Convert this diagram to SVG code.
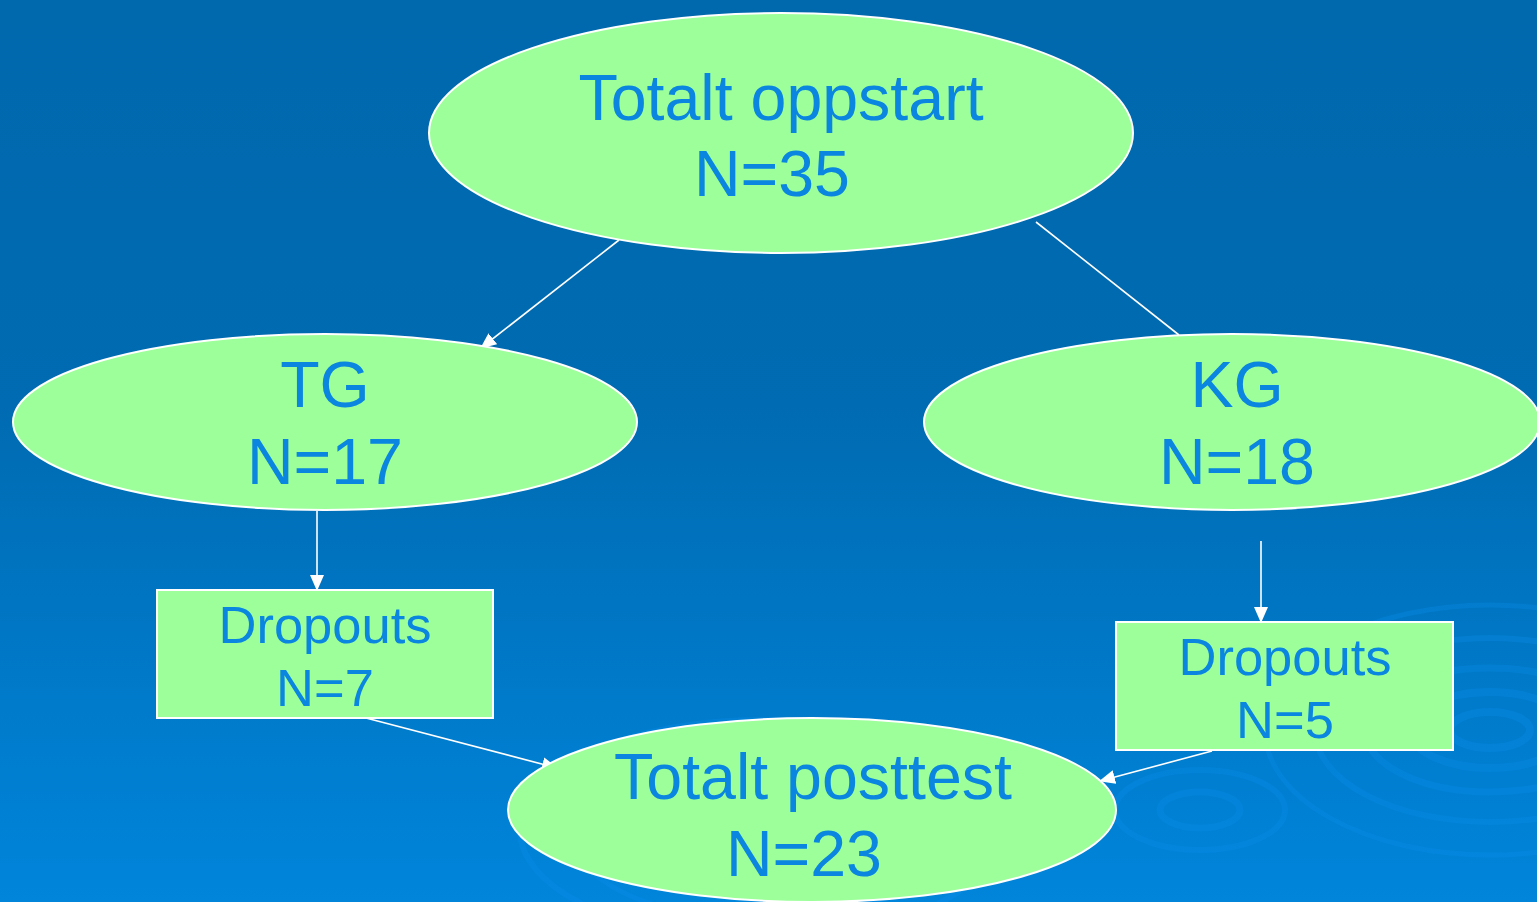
<svg xmlns="http://www.w3.org/2000/svg" width="1537" height="902" viewBox="0 0 1537 902">
<defs>
<linearGradient id="bg" x1="0" y1="0" x2="0" y2="1">
<stop offset="0" stop-color="#0068AD"/>
<stop offset="0.45" stop-color="#006BB2"/>
<stop offset="1" stop-color="#0085DB"/>
</linearGradient>
<marker id="arr" markerWidth="16" markerHeight="14" refX="15" refY="7" orient="auto" markerUnits="userSpaceOnUse">
<path d="M0,0 L16,7 L0,14 Z" fill="#FFFFFF"/>
</marker>
<style>
.node{fill:#9CFF9A;stroke:#FFFFFF;stroke-width:2}
.t{font-family:"Liberation Sans",Arial,sans-serif;fill:#0A86E0;text-anchor:middle}
.big{font-size:64.5px}
.sm{font-size:52.5px}
.conn{stroke:#FFFFFF;stroke-width:1.6;fill:none}
.rip{fill:none;stroke:#0A8EEA;stroke-opacity:0.3}
</style>
</defs>
<rect x="0" y="0" width="1537" height="902" fill="url(#bg)"/>
<g id="ripples">
<ellipse class="rip" cx="1490" cy="730" rx="40" ry="18" stroke-width="8"/>
<ellipse class="rip" cx="1490" cy="730" rx="80" ry="38" stroke-width="8"/>
<ellipse class="rip" cx="1490" cy="730" rx="125" ry="62" stroke-width="7"/>
<ellipse class="rip" cx="1490" cy="730" rx="175" ry="92" stroke-width="6"/>
<ellipse class="rip" cx="1490" cy="730" rx="225" ry="125" stroke-width="5"/>
<ellipse class="rip" cx="1200" cy="810" rx="40" ry="18" stroke-width="7"/>
<ellipse class="rip" cx="1200" cy="810" rx="85" ry="40" stroke-width="6"/>
<ellipse class="rip" cx="760" cy="830" rx="240" ry="110" stroke-width="6"/>
<ellipse class="rip" cx="760" cy="830" rx="190" ry="90" stroke-width="5"/>
</g>
<g id="connectors">
<line class="conn" x1="619" y1="240" x2="481" y2="348" marker-end="url(#arr)"/>
<line class="conn" x1="1036" y1="222" x2="1179" y2="335"/>
<line class="conn" x1="317" y1="511" x2="317" y2="590" marker-end="url(#arr)"/>
<line class="conn" x1="1261" y1="541" x2="1261" y2="622" marker-end="url(#arr)"/>
<line class="conn" x1="366" y1="718" x2="557" y2="768" marker-end="url(#arr)"/>
<line class="conn" x1="1212" y1="751" x2="1100" y2="781" marker-end="url(#arr)"/>
</g>
<g id="node-totalt-oppstart">
<ellipse class="node" cx="781" cy="133" rx="352" ry="120"/>
<text class="t big" x="781" y="120">Totalt oppstart</text>
<text class="t big" x="772" y="196">N=35</text>
</g>
<g id="node-tg">
<ellipse class="node" cx="325" cy="422" rx="312" ry="88"/>
<text class="t big" x="325" y="407">TG</text>
<text class="t big" x="325" y="484">N=17</text>
</g>
<g id="node-kg">
<ellipse class="node" cx="1232" cy="422" rx="308" ry="88"/>
<text class="t big" x="1237" y="407">KG</text>
<text class="t big" x="1237" y="484">N=18</text>
</g>
<g id="node-dropouts-tg">
<rect class="node" x="157" y="590" width="336" height="128"/>
<text class="t sm" x="325" y="643">Dropouts</text>
<text class="t sm" x="325" y="706">N=7</text>
</g>
<g id="node-dropouts-kg">
<rect class="node" x="1116" y="622" width="337" height="128"/>
<text class="t sm" x="1285" y="675">Dropouts</text>
<text class="t sm" x="1285" y="738">N=5</text>
</g>
<g id="node-totalt-posttest">
<ellipse class="node" cx="812" cy="810" rx="304" ry="92"/>
<text class="t big" x="813" y="799">Totalt posttest</text>
<text class="t big" x="804" y="876">N=23</text>
</g>
</svg>
